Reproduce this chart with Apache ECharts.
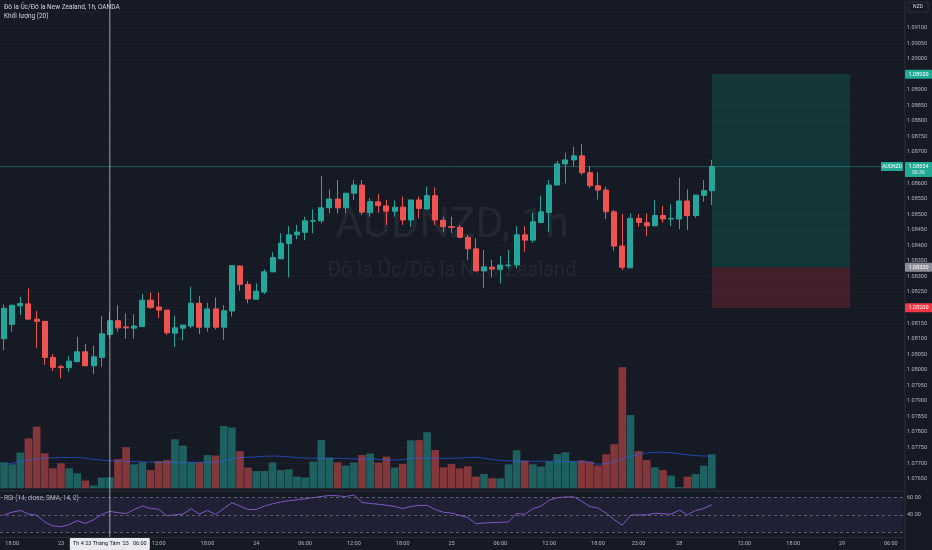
<!DOCTYPE html>
<html><head><meta charset="utf-8">
<script src="https://cdn.jsdelivr.net/npm/echarts@6/dist/echarts.min.js"></script>
<style>html,body{margin:0;padding:0;background:#161a25;overflow:hidden}#c{width:932px;height:550px}</style>
</head><body><div id="c"></div><script>
// ---------- DATA ----------
const categories = [
'08-22 17:00','08-22 18:00','08-22 19:00','08-22 20:00','08-22 21:00','08-22 22:00','08-22 23:00',
'08-23 00:00','08-23 01:00','08-23 02:00','08-23 03:00','08-23 04:00','08-23 05:00','08-23 06:00','08-23 07:00','08-23 08:00','08-23 09:00','08-23 10:00','08-23 11:00',
'08-23 12:00','08-23 13:00','08-23 14:00','08-23 15:00','08-23 16:00','08-23 17:00','08-23 18:00','08-23 19:00','08-23 20:00','08-23 21:00','08-23 22:00','08-23 23:00',
'08-24 00:00','08-24 01:00','08-24 02:00','08-24 03:00','08-24 04:00','08-24 05:00','08-24 06:00','08-24 07:00','08-24 08:00','08-24 09:00','08-24 10:00','08-24 11:00',
'08-24 12:00','08-24 13:00','08-24 14:00','08-24 15:00','08-24 16:00','08-24 17:00','08-24 18:00','08-24 19:00','08-24 20:00','08-24 21:00','08-24 22:00','08-24 23:00',
'08-25 00:00','08-25 01:00','08-25 02:00','08-25 03:00','08-25 04:00','08-25 05:00','08-25 06:00','08-25 07:00','08-25 08:00','08-25 09:00','08-25 10:00','08-25 11:00',
'08-25 12:00','08-25 13:00','08-25 14:00','08-25 15:00','08-25 16:00','08-25 17:00','08-25 18:00','08-25 19:00','08-25 20:00','08-25 21:00','08-25 22:00','08-25 23:00',
'08-26 00:00','08-26 01:00','08-26 02:00','08-26 03:00',
'08-28 04:00','08-28 05:00','08-28 06:00','08-28 07:00','08-28 08:00','08-28 09:00','08-28 10:00','08-28 11:00',
'08-28 12:00','08-28 13:00','08-28 14:00','08-28 15:00','08-28 16:00','08-28 17:00','08-28 18:00','08-28 19:00','08-28 20:00','08-28 21:00','08-28 22:00','08-28 23:00',
'08-29 00:00','08-29 01:00','08-29 02:00','08-29 03:00','08-29 04:00','08-29 05:00','08-29 06:00','08-29 07:00'
];
const xTickLabels = {
'08-22 18:00':'18:00','08-23 00:00':'23','08-23 06:00':'06:00','08-23 12:00':'12:00','08-23 18:00':'18:00',
'08-24 00:00':'24','08-24 06:00':'06:00','08-24 12:00':'12:00','08-24 18:00':'18:00',
'08-25 00:00':'25','08-25 06:00':'06:00','08-25 12:00':'12:00','08-25 18:00':'18:00','08-25 23:00':'23:00',
'08-28 04:00':'28','08-28 12:00':'12:00','08-28 18:00':'18:00','08-29 00:00':'29','08-29 06:00':'06:00'
};
// [open, high, low, close]
const ohlc = [
[1.08100,1.08210,1.08063,1.08198],[1.08146,1.08208,1.08123,1.08208],[1.08206,1.08235,1.08176,1.08213],[1.08212,1.08262,1.08163,1.08163],
[1.08163,1.08189,1.08071,1.08156],[1.08156,1.08156,1.08016,1.08040],[1.08040,1.08051,1.07996,1.08008],[1.08010,1.08016,1.07973,1.08007],
[1.08007,1.08044,1.07994,1.08028],[1.08026,1.08106,1.08026,1.08058],[1.08058,1.08083,1.08013,1.08013],[1.08013,1.08078,1.07986,1.08042],
[1.08040,1.08173,1.08010,1.08116],[1.08114,1.08187,1.08101,1.08158],[1.08158,1.08208,1.08123,1.08135],[1.08138,1.08182,1.08101,1.08135],
[1.08134,1.08179,1.08101,1.08141],[1.08139,1.08243,1.08139,1.08224],[1.08224,1.08249,1.08196,1.08201],[1.08202,1.08248,1.08166,1.08192],
[1.08192,1.08192,1.08112,1.08119],[1.08118,1.08173,1.08074,1.08135],[1.08134,1.08144,1.08096,1.08144],[1.08141,1.08267,1.08134,1.08214],
[1.08214,1.08237,1.08115,1.08137],[1.08137,1.08216,1.08123,1.08196],[1.08196,1.08233,1.08130,1.08137],[1.08137,1.08208,1.08096,1.08190],
[1.08189,1.08337,1.08171,1.08335],[1.08334,1.08335,1.08254,1.08275],[1.08275,1.08286,1.08214,1.08228],[1.08227,1.08278,1.08227,1.08253],
[1.08250,1.08323,1.08244,1.08315],[1.08315,1.08378,1.08315,1.08361],[1.08357,1.08439,1.08357,1.08407],[1.08406,1.08462,1.08297,1.08434],
[1.08434,1.08466,1.08420,1.08443],[1.08442,1.08492,1.08417,1.08479],[1.08478,1.08516,1.08439,1.08479],[1.08479,1.08623,1.08471,1.08521],
[1.08521,1.08580,1.08503,1.08549],[1.08549,1.08610,1.08503,1.08521],[1.08521,1.08568,1.08503,1.08568],[1.08568,1.08610,1.08546,1.08594],
[1.08594,1.08610,1.08498,1.08507],[1.08505,1.08552,1.08492,1.08541],[1.08540,1.08565,1.08505,1.08528],[1.08527,1.08546,1.08466,1.08510],
[1.08510,1.08544,1.08492,1.08523],[1.08523,1.08557,1.08466,1.08482],[1.08482,1.08546,1.08460,1.08546],[1.08546,1.08557,1.08487,1.08519],
[1.08517,1.08589,1.08517,1.08560],[1.08560,1.08587,1.08466,1.08482],[1.08481,1.08492,1.08444,1.08460],[1.08460,1.08492,1.08439,1.08458],
[1.08458,1.08466,1.08423,1.08426],[1.08426,1.08434,1.08353,1.08389],[1.08389,1.08423,1.08318,1.08318],[1.08318,1.08385,1.08262,1.08331],
[1.08330,1.08353,1.08297,1.08324],[1.08323,1.08366,1.08278,1.08337],[1.08335,1.08385,1.08326,1.08337],[1.08337,1.08462,1.08326,1.08434],
[1.08434,1.08462,1.08380,1.08417],[1.08417,1.08505,1.08409,1.08476],[1.08474,1.08559,1.08471,1.08508],[1.08506,1.08610,1.08444,1.08594],
[1.08594,1.08672,1.08594,1.08662],[1.08662,1.08698,1.08600,1.08675],[1.08675,1.08717,1.08653,1.08688],[1.08688,1.08726,1.08626,1.08634],
[1.08634,1.08655,1.08584,1.08592],[1.08592,1.08635,1.08548,1.08578],[1.08578,1.08589,1.08485,1.08508],[1.08508,1.08514,1.08383,1.08398],
[1.08398,1.08501,1.08321,1.08330],[1.08328,1.08503,1.08328,1.08487],[1.08487,1.08501,1.08460,1.08474],[1.08473,1.08503,1.08431,1.08463],
[1.08463,1.08546,1.08463,1.08496],[1.08496,1.08527,1.08473,1.08485],[1.08485,1.08532,1.08462,1.08487],[1.08485,1.08618,1.08452,1.08543],
[1.08543,1.08580,1.08450,1.08496],[1.08496,1.08562,1.08489,1.08562],[1.08561,1.08610,1.08541,1.08576],[1.08576,1.08675,1.08530,1.08654]
];
const volumes = [
1040,960,1430,2000,2470,1400,800,1000,800,600,310,110,430,440,1170,1640,960,1040,730,1090,1130,1960,1710,1040,1040,1330,1310,2490,2430,1490,
830,690,690,1030,730,760,470,430,1070,1930,1230,1040,910,1030,1330,
1390,1030,1270,830,970,1920,1930,2240,1530,840,970,800,880,470,570,400,400,960,1520,1110,960,870,1070,1370,1440,1070,1120,1070,910,1360,
1760,4840,2930,1490,1130,840,730,510,50,470,570,910,1360
];
const volumeMA = [
960,1000,1080,1120,1170,1200,1220,1230,1230,1230,1200,1160,1130,1100,1090,1080,1070,1060,1050,1050,1040,1040,1040,1040,1040,1040,1050,1100,1180,1230,
1240,1260,1280,1290,1280,1260,1230,1210,1200,1200,1200,1200,1190,1180,1170,
1180,1160,1140,1130,1150,1190,1200,1200,1200,1200,1200,1210,1230,1240,1200,1150,1120,1100,1090,1080,1080,1080,1080,1090,1080,1070,1060,1040,960,1000,
1070,1180,1270,1370,1410,1440,1440,1420,1380,1340,1310,1290,1290
];
const rsi = [
40,43,45,41,39.5,32,27.5,26.7,29,33.5,30.3,34.5,40.5,44,42.5,41.5,46,50,47.2,46.5,39,40,41,47,41,45,40.5,47,53.7,50,
46.1,46.1,50,52.5,54.5,56,57,58.3,59.5,60.8,62,61.5,60.8,62.5,54,
53,52,51,49.5,47.2,49.5,50.8,50.8,46,43,42,39.5,37,30,30.8,31.2,31.6,32.1,41.5,40.8,46.8,50,56.5,59.4,60.3,60.5,55.5,49.5,47.8,42,
34.6,28.5,39.5,40,40,41.8,41.3,40.8,45.4,40,45,47.2,51.6
];
const rsiLevels = [60, 40, 20];
const rsiTicks = [60, 40];
const lastPrice = 1.08654;
const countdown = '06:36';
const posTarget = 1.08950, posEntry = 1.08330, posStop = 1.08200;
const posStart = '08-28 08:00', posEnd = '08-29 01:00';
const crosshairAt = '08-23 06:00';
const crosshairText = "Th 4 23 Tháng Tám '23   06:00";
const symbolTitle = 'Đô la Úc/Đô la New Zealand, 1h, OANDA';
const volTitle = 'Khối lượng (20)';
const rsiTitle = 'RSI (14, close, SMA, 14, 2)';

// ---------- STYLE ----------
const UP = '#26a69a', DOWN = '#ef5350';
const FONT = 'Roboto';
const GL = -4, GW = 907;

const chart = echarts.init(document.getElementById('c'), null, {renderer:'canvas'});
const candleData = ohlc.map(r => [r[0], r[3], r[2], r[1]]);
const volData = volumes.map((v,i) => ({value:v, itemStyle:{color: ohlc[i][3] >= ohlc[i][0] ? 'rgba(38,166,154,0.5)' : 'rgba(239,83,80,0.5)'}}));

chart.setOption({
  backgroundColor:'#161a25',
  animation:false,
  textStyle:{fontFamily:FONT},
  grid:[
    {left:GL, width:GW, top:12.15, height:466.55},
    {left:GL, width:GW, top:348.3, height:140},
    {left:GL, width:GW, top:491, height:46}
  ],
  xAxis:[
    {type:'category', gridIndex:0, data:categories, boundaryGap:true, axisLine:{show:false}, axisTick:{show:false}, axisLabel:{show:false}, splitLine:{show:false}},
    {type:'category', gridIndex:1, data:categories, boundaryGap:true, axisLine:{show:false}, axisTick:{show:false}, axisLabel:{show:false}, splitLine:{show:false}},
    {type:'category', gridIndex:2, data:categories, boundaryGap:true,
     axisLine:{show:true, lineStyle:{color:'#2a2e39'}}, axisTick:{show:false},
     axisLabel:{show:true, color:'#b2b5be', fontSize:5.5, margin:4,
       interval:(i,v)=>xTickLabels[v]!==undefined, formatter:v=>xTickLabels[v]||''},
     splitLine:{show:false}}
  ],
  yAxis:[
    {type:'value', gridIndex:0, position:'right', min:1.0765, max:1.0915, interval:0.0005, scale:true,
     axisLine:{show:false}, axisTick:{show:false},
     axisLabel:{color:'#b2b5be', fontSize:5.5, margin:4, align:'left', formatter:v=> v>1.0912 ? '' : v.toFixed(5)},
     splitLine:{show:true, lineStyle:{color:'rgba(255,255,255,0.025)'}}},
    {type:'value', gridIndex:1, min:0, max:5600, show:false},
    {type:'value', gridIndex:2, position:'right', min:15, max:67,
     axisLine:{show:false}, axisTick:{show:false},
     axisLabel:{color:'#b2b5be', fontSize:5.5, margin:4, align:'left', customValues:rsiTicks, formatter:v=>v.toFixed(2)},
     splitLine:{show:false}}
  ],
  series:[
    {type:'bar', xAxisIndex:1, yAxisIndex:1, data:volData, barCategoryGap:'6%', z:1, silent:true},
    {type:'line', xAxisIndex:1, yAxisIndex:1, data:volumeMA, symbol:'none', smooth:0.3, z:2,
     lineStyle:{color:'rgba(41,98,255,0.6)', width:1}, silent:true},
    {type:'candlestick', xAxisIndex:0, yAxisIndex:0, data:candleData, barWidth:'68%', z:5,
     itemStyle:{color:UP, color0:DOWN, borderColor:UP, borderColor0:DOWN, borderWidth:1},
     markArea:{silent:true, data:[
       [{coord:[posStart, posTarget], itemStyle:{color:'rgba(8,153,129,0.22)'}}, {coord:[posEnd, posEntry]}],
       [{coord:[posStart, posEntry], itemStyle:{color:'rgba(242,54,69,0.2)'}}, {coord:[posEnd, posStop]}]
     ]},
     markLine:{silent:true, symbol:'none', precision:5, label:{show:false},
       lineStyle:{color:'rgba(38,166,154,0.4)', width:1, type:'solid'},
       data:[{yAxis:lastPrice}]}
    },
    {type:'line', xAxisIndex:2, yAxisIndex:2, data:rsi, symbol:'none', z:3,
     lineStyle:{color:'#7e57c2', width:1}, silent:true,
     markArea:{silent:true, itemStyle:{color:'rgba(126,87,194,0.1)'}, data:[[{yAxis:rsiLevels[0]},{yAxis:rsiLevels[2]}]]},
     markLine:{silent:true, symbol:'none', label:{show:false},
       lineStyle:{color:'rgba(120,123,134,0.7)', width:1, type:[3,3]},
       data:rsiLevels.map(v=>({yAxis:v}))}
    }
  ]
});

// ---------- overlays placed through the chart's scales ----------
const AX = 905;
const py = v => chart.convertToPixel({yAxisIndex:0}, v);
const cx = chart.convertToPixel({xAxisIndex:0}, crosshairAt);
function tag(y, fill, text, textColor, h){
  h = h || 9;
  return [
    {type:'rect', z:100, shape:{x:AX, y:y-4.5, width:27, height:h, r:1}, style:{fill:fill}},
    {type:'text', z:101, x:AX+13.5, y:y, style:{text:text, fill:textColor||'#fff', font:'5.5px '+FONT, align:'center', verticalAlign:'middle'}}
  ];
}
const yl = py(lastPrice);
const g = [
  {type:'line', z:50, shape:{x1:AX, y1:0, x2:AX, y2:550}, style:{stroke:'#2a2e39', lineWidth:1}},
  {type:'line', z:50, shape:{x1:0, y1:491, x2:AX, y2:491}, style:{stroke:'#2a2e39', lineWidth:1}},
  {type:'text', z:1, x:452, y:226, style:{text:'AUDNZD, 1h', fill:'rgba(255,255,255,0.06)', font:'43px '+FONT, align:'center', verticalAlign:'middle'}},
  {type:'text', z:1, x:452, y:271, style:{text:'Đô la Úc/Đô la New Zealand', fill:'rgba(255,255,255,0.06)', font:'20px '+FONT, align:'center', verticalAlign:'middle'}},
  {type:'text', z:60, x:4, y:7.5, style:{text:symbolTitle, fill:'#d1d4dc', font:'6.5px '+FONT, verticalAlign:'middle'}},
  {type:'text', z:60, x:4, y:16, style:{text:volTitle, fill:'#d1d4dc', font:'6.5px '+FONT, verticalAlign:'middle'}},
  {type:'text', z:60, x:4, y:498.5, style:{text:rsiTitle, fill:'#b2b5be', font:'6.5px '+FONT, verticalAlign:'middle'}},
  {type:'rect', z:60, shape:{x:908, y:2, width:20, height:10, r:1}, style:{fill:'#161a25', stroke:'#363a45', lineWidth:0.7}},
  {type:'text', z:61, x:918, y:7, style:{text:'NZD', fill:'#d1d4dc', font:'5px '+FONT, align:'center', verticalAlign:'middle'}},
  {type:'line', z:70, shape:{x1:cx, y1:0, x2:cx, y2:537}, style:{stroke:'rgba(200,203,212,0.75)', lineWidth:1}},
  {type:'rect', z:80, shape:{x:cx-40, y:538, width:80, height:12, r:1}, style:{fill:'#e7e9ef'}},
  {type:'text', z:81, x:cx, y:544, style:{text:crosshairText, fill:'#131722', font:'5.5px '+FONT, align:'center', verticalAlign:'middle'}},
  {type:'rect', z:100, shape:{x:881, y:yl-4.5, width:22, height:9, r:1}, style:{fill:'#22ab94'}},
  {type:'text', z:101, x:892, y:yl, style:{text:'AUDNZD', fill:'#fff', font:'5px '+FONT, align:'center', verticalAlign:'middle'}},
  {type:'rect', z:100, shape:{x:AX, y:yl-4.5, width:27, height:15, r:1}, style:{fill:'#22ab94'}},
  {type:'text', z:101, x:AX+13.5, y:yl, style:{text:lastPrice.toFixed(5), fill:'#fff', font:'5.5px '+FONT, align:'center', verticalAlign:'middle'}},
  {type:'text', z:101, x:AX+13.5, y:yl+6.2, style:{text:countdown, fill:'#e0f2ef', font:'5px '+FONT, align:'center', verticalAlign:'middle'}}
].concat(tag(py(posTarget), '#22ab94', posTarget.toFixed(5)))
 .concat(tag(py(posEntry), '#8c8f99', posEntry.toFixed(5)))
 .concat(tag(py(posStop), '#f23645', posStop.toFixed(5)));
chart.setOption({graphic:g});
</script></body></html>
